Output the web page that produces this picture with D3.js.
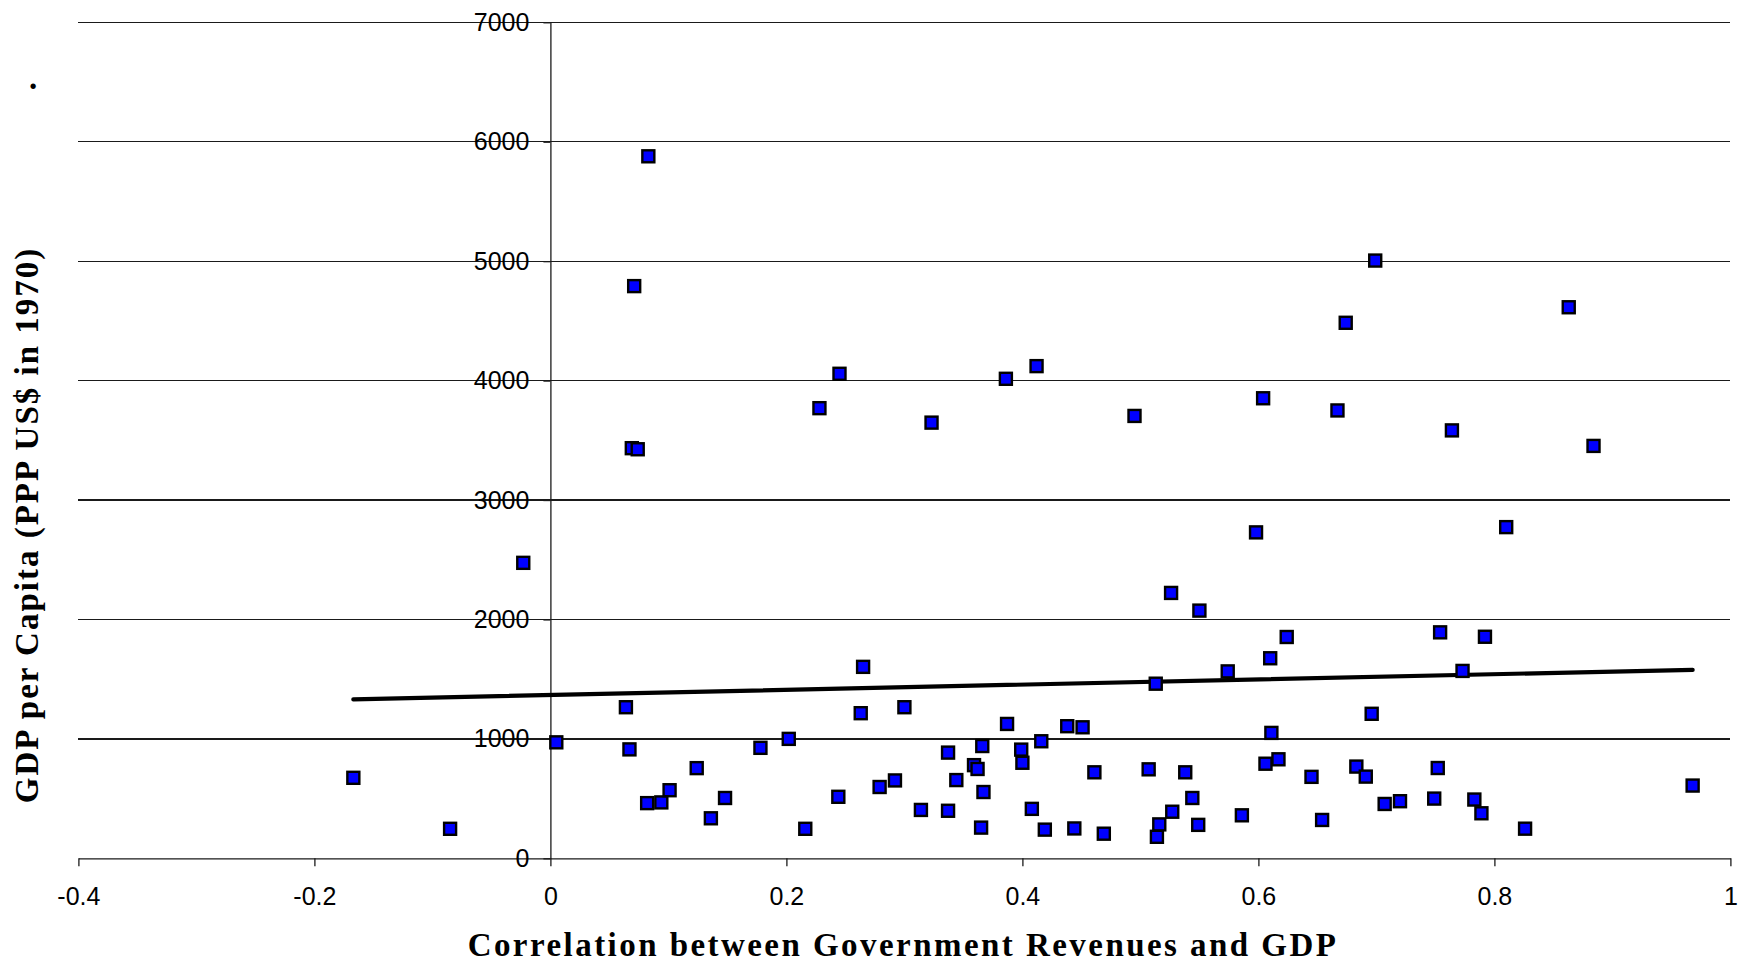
<!DOCTYPE html>
<html>
<head>
<meta charset="utf-8">
<script src="https://cdn.jsdelivr.net/npm/d3@7"></script>
<style>
  html, body { margin: 0; padding: 0; background: #ffffff; }
  svg { display: block; }
  .tick text { font-family: "Liberation Sans", Arial, sans-serif; font-size: 25px; fill: #000; }
  .title { font-family: "Liberation Serif", "Times New Roman", serif; font-weight: bold; font-size: 33px; fill: #000; }
</style>
</head>
<body>
<svg id="chart" width="1740" height="962"></svg>
<script>
// Correlation between government revenues and GDP, one value per country
const correlation = [
  -0.167, -0.085, -0.023, 0.005, 0.064, 0.067, 0.069, 0.074, 0.071, 0.083,
  0.082, 0.094, 0.101, 0.124, 0.136, 0.148, 0.178, 0.202, 0.216, 0.228,
  0.244, 0.245, 0.263, 0.265, 0.279, 0.292, 0.300, 0.314, 0.323, 0.337,
  0.337, 0.344, 0.359, 0.362, 0.365, 0.366, 0.367, 0.386, 0.387, 0.399,
  0.400, 0.408, 0.412, 0.416, 0.419, 0.438, 0.444, 0.451, 0.461, 0.469,
  0.495, 0.507, 0.513, 0.514, 0.516, 0.526, 0.527, 0.538, 0.544, 0.549,
  0.550, 0.574, 0.586, 0.598, 0.606, 0.604, 0.610, 0.611, 0.617, 0.624,
  0.645, 0.654, 0.667, 0.674, 0.683, 0.691, 0.696, 0.699, 0.707, 0.720,
  0.749, 0.752, 0.754, 0.764, 0.773, 0.783, 0.789, 0.792, 0.810, 0.826,
  0.863, 0.884, 0.968
];

// GDP per capita in 1970 (PPP US$), same country order
const gdp1970 = [
  674, 247, 2474, 971, 1265, 912, 3434, 3425, 4791, 5878,
  462, 468, 570, 755, 335, 505, 925, 1000, 247, 3769,
  515, 4057, 1215, 1603, 597, 652, 1265, 405, 3648, 398,
  885, 655, 780, 748, 257, 940, 555, 4015, 1125, 910,
  800, 414, 4121, 980, 240, 1106, 250, 1097, 720, 206,
  3704, 745, 1462, 180, 284, 2222, 390, 720, 505, 280,
  2074, 1565, 360, 2729, 792, 3852, 1675, 1050, 829, 1853,
  682, 321, 3750, 4484, 768, 684, 1210, 5005, 455, 478,
  500, 756, 1892, 3583, 1569, 492, 377, 1855, 2773, 248,
  4614, 3453, 609
];

const xTicks = [-0.4, -0.2, 0, 0.2, 0.4, 0.6, 0.8, 1];
const yTicks = [0, 1000, 2000, 3000, 4000, 5000, 6000, 7000];

const xTitle = "Correlation between Government Revenues and GDP";
const yTitle = "GDP per Capita (PPP US$ in 1970)";

const svg = d3.select("#chart");

const x = d3.scaleLinear().domain([-0.4, 1]).range([78.4, 1730.4]);
const y = d3.scaleLinear().domain([0, 7000]).range([858.3, 22.3]);

const points = correlation.map((c, i) => ({ c, g: gdp1970[i] }));

// Horizontal gridlines across the full width
svg.append("g")
  .selectAll("line")
  .data(yTicks.filter(t => t > 0))
  .join("line")
  .attr("x1", x(-0.4)).attr("x2", x(1))
  .attr("y1", d => y(d)).attr("y2", d => y(d))
  .attr("stroke", "#1a1a1a").attr("stroke-width", 1.3)
  .attr("shape-rendering", "crispEdges");

// Horizontal axis along GDP = 0
const xAxis = svg.append("g")
  .attr("transform", `translate(0,${y(0)})`)
  .call(d3.axisBottom(x)
    .tickValues(xTicks)
    .tickSize(8)
    .tickSizeOuter(0)
    .tickPadding(21)
    .tickFormat(d => String(d)));

// Vertical axis crossing at correlation = 0
const yAxis = svg.append("g")
  .attr("transform", `translate(${x(0)},0)`)
  .call(d3.axisLeft(y)
    .tickValues(yTicks)
    .tickSize(7)
    .tickSizeOuter(0)
    .tickPadding(14)
    .tickFormat(d3.format("d")));

[xAxis, yAxis].forEach(ax => {
  ax.select(".domain").attr("stroke", "#1a1a1a").attr("stroke-width", 1.3);
  ax.selectAll(".tick line").attr("stroke", "#1a1a1a").attr("stroke-width", 1.3);
  ax.selectAll(".tick text").attr("fill", "#000");
});

// Linear least-squares trend over the observed correlation range
const mx = d3.mean(correlation), my = d3.mean(gdp1970);
const sxy = d3.sum(points, p => (p.c - mx) * (p.g - my));
const sxx = d3.sum(points, p => (p.c - mx) * (p.c - mx));
const slope = sxy / sxx;
const intercept = my - slope * mx;
const [cMin, cMax] = d3.extent(correlation);

svg.append("line")
  .attr("x1", x(cMin)).attr("y1", y(intercept + slope * cMin))
  .attr("x2", x(cMax)).attr("y2", y(intercept + slope * cMax))
  .attr("stroke", "#000").attr("stroke-width", 4.2)
  .attr("stroke-linecap", "round");

// Country markers
const size = 12;
svg.append("g")
  .selectAll("rect")
  .data(points)
  .join("rect")
  .attr("x", d => x(d.c) - size / 2)
  .attr("y", d => y(d.g) - size / 2)
  .attr("width", size).attr("height", size)
  .attr("fill", "#0000ff")
  .attr("stroke", "#000").attr("stroke-width", 2.4);

// Axis titles
svg.append("text")
  .attr("class", "title")
  .attr("x", 903).attr("y", 956)
  .attr("text-anchor", "middle")
  .style("letter-spacing", "2.45px")
  .text(xTitle);

svg.append("text")
  .attr("class", "title")
  .attr("transform", "translate(38,525) rotate(-90)")
  .attr("text-anchor", "middle")
  .style("letter-spacing", "2px")
  .text(yTitle);

svg.append("text")
  .attr("class", "title")
  .attr("x", 29).attr("y", 89)
  .text(".");
</script>
</body>
</html>
